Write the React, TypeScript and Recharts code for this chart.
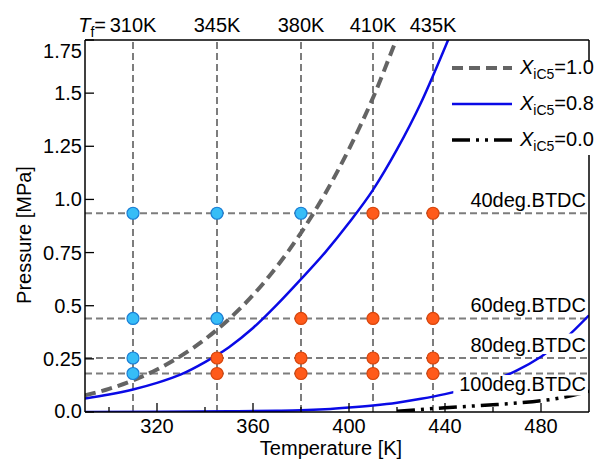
import React from 'react';
import { ComposedChart, Line, Scatter, XAxis, YAxis, ReferenceLine, Legend } from 'recharts';

// ---- data ----
const fuelTemps = [310, 345, 380, 410, 435];
const btdcPressures = [0.935, 0.44, 0.254, 0.181];
const btdcLabels = ['40deg.BTDC', '60deg.BTDC', '80deg.BTDC', '100deg.BTDC'];

// X_iC5 = 1.0 vapour pressure curve
const tempX10 = [290, 300, 310, 320, 330, 340, 350, 360, 370, 380, 390, 400, 410, 420, 425];
const presX10 = [0.078, 0.109, 0.149, 0.2, 0.264, 0.342, 0.437, 0.55, 0.685, 0.843, 1.026, 1.237, 1.478, 1.76, 1.9];

// X_iC5 = 0.8 bubble curve
const tempX08 = [290, 300, 310, 320, 330, 340, 350, 360, 370, 380, 390, 400, 410, 420, 430, 440, 445];
const presX08 = [0.063, 0.082, 0.106, 0.137, 0.177, 0.235, 0.305, 0.395, 0.505, 0.625, 0.75, 0.89, 1.045, 1.235, 1.455, 1.715, 1.85];

// X_iC5 = 0.8 dew curve
const tempX08d = [290, 320, 350, 370, 380, 390, 400, 410, 420, 430, 440, 450, 460, 470, 480, 490, 500];
const presX08d = [0.0005, 0.0012, 0.003, 0.0055, 0.008, 0.013, 0.021, 0.031, 0.044, 0.062, 0.084, 0.112, 0.148, 0.196, 0.26, 0.345, 0.455];

// X_iC5 = 0.0 curve
const tempX00 = [420, 430, 440, 450, 460, 470, 480, 490, 500];
const presX00 = [0.003, 0.012, 0.02, 0.027, 0.034, 0.042, 0.053, 0.07, 0.098];

// measured conditions
const coolT = [310, 310, 310, 310, 345, 345, 380];
const coolP = [0.935, 0.44, 0.254, 0.181, 0.935, 0.44, 0.935];
const warmT = [345, 345, 380, 380, 380, 410, 410, 410, 410, 435, 435, 435, 435];
const warmP = [0.254, 0.181, 0.44, 0.254, 0.181, 0.935, 0.44, 0.254, 0.181, 0.935, 0.44, 0.254, 0.181];

// axes
const xTicks = [300, 320, 340, 360, 380, 400, 420, 440, 460, 480];
const xMajor = [320, 360, 400, 440, 480];
const yTicks = [0, 0.25, 0.5, 0.75, 1, 1.25, 1.5, 1.75];
const yTickLabels = ['0.0', '0.25', '0.5', '0.75', '1.0', '1.25', '1.5', '1.75'];
const legendValues = ['1.0', '0.8', '0.0'];

const zip = (ts: number[], ps: number[]) => ts.map((T, i) => ({ T, P: ps[i] }));
const curveX10 = zip(tempX10, presX10);
const curveX08 = zip(tempX08, presX08);
const curveX08d = zip(tempX08d, presX08d);
const curveX00 = zip(tempX00, presX00);
const coolPts = zip(coolT, coolP);
const warmPts = zip(warmT, warmP);

const FONT = '"Liberation Sans", Arial, Helvetica, sans-serif';
const GRID = '#7d7d7d';
const GRAY = '#646464';
const BLUE = '#0a0ae6';
const DASH_DOT = '18 6 3 6 3 6';

const BottomTick = (p: any) => {
  const major = xMajor.includes(p.payload.value);
  return (
    <g>
      <line x1={p.x} x2={p.x} y1={p.y} y2={p.y - (major ? 9 : 5)} stroke="#000" strokeWidth={1.3} />
      {major && (
        <text x={p.x} y={p.y + 21} textAnchor="middle" fontSize={20} fontFamily={FONT} fill="#000">
          {p.payload.value}
        </text>
      )}
    </g>
  );
};

const TopTick = (p: any) => {
  const major = xMajor.includes(p.payload.value);
  return <line x1={p.x} x2={p.x} y1={p.y} y2={p.y + (major ? 9 : 5)} stroke="#000" strokeWidth={1.3} />;
};

const LeftTick = (p: any) => {
  const v = p.payload.value;
  const idx = yTicks.indexOf(v);
  const shift = v === 1.75 ? 11 : v === 0 ? -1.5 : 0;
  return (
    <g>
      <line x1={p.x} x2={p.x + 9} y1={p.y} y2={p.y} stroke="#000" strokeWidth={1.3} />
      <text x={p.x - 3} y={p.y + 7 + shift} textAnchor="end" fontSize={20} fontFamily={FONT} fill="#000">
        {yTickLabels[idx]}
      </text>
    </g>
  );
};

const RightTick = (p: any) => (
  <line x1={p.x} x2={p.x - 8} y1={p.y} y2={p.y} stroke="#000" strokeWidth={1.3} />
);

// fuel temperature caption above each vertical guide line
const FuelTempTag = (p: any) => {
  const vb = p.viewBox;
  const v: number = p.value;
  const base = vb.y - 8;
  return (
    <g fontFamily={FONT} fontSize={20} fill="#000">
      <text x={vb.x} y={base} textAnchor="middle">{`${v}K`}</text>
      {v === fuelTemps[0] && (
        <text x={vb.x - 27} y={base} textAnchor="end">
          <tspan fontStyle="italic">T</tspan>
          <tspan fontSize={14} dy={5}>f</tspan>
          <tspan dy={-5}>=</tspan>
        </text>
      )}
    </g>
  );
};

const XTitle = (p: any) => {
  const vb = p.viewBox;
  return (
    <text x={vb.x + vb.width / 2 - 6} y={vb.y + 43} textAnchor="middle" fontSize={20} fontFamily={FONT} fill="#000">
      Temperature [K]
    </text>
  );
};

const YTitle = (p: any) => {
  const vb = p.viewBox;
  const x = vb.x + vb.width - 54;
  const y = vb.y + vb.height / 2 + 9;
  return (
    <text x={x} y={y} transform={`rotate(-90, ${x}, ${y})`} textAnchor="middle" fontSize={20} fontFamily={FONT} fill="#000">
      Pressure [MPa]
    </text>
  );
};

const BtdcTag = (p: any) => {
  const vb = p.viewBox;
  const text: string = p.text;
  const below: boolean = p.below;
  const right = vb.x + vb.width - 3;
  const w = text.length * 11.7 + 4;
  const top = below ? vb.y + 1.5 : vb.y - 24.5;
  const base = below ? vb.y + 17 : vb.y - 6.5;
  return (
    <g>
      <rect x={right - w} y={top} width={w + 2} height={20.5} fill="#fff" />
      <text x={right} y={base} textAnchor="end" fontSize={20} fontFamily={FONT} fill="#000">
        {text}
      </text>
    </g>
  );
};

const Marker = (fill: string, stroke: string) => (p: any) => (
  <circle cx={p.cx} cy={p.cy} r={6} fill={fill} stroke={stroke} strokeWidth={1.2} />
);

const legendStyles = [
  { stroke: GRAY, width: 4, dash: '11 6' },
  { stroke: BLUE, width: 2.5, dash: undefined },
  { stroke: '#000', width: 3.5, dash: DASH_DOT },
];

const LegendBox = () => (
  <div style={{ position: 'relative', width: 165, height: 108, fontFamily: FONT, fontSize: 20, color: '#000' }}>
    <div style={{ position: 'absolute', left: 0, top: 12, width: 165, height: 93, background: '#fff' }} />
    {legendValues.map((val, i) => (
      <div
        key={val}
        style={{ position: 'absolute', left: 0, top: i * 36, height: 36, display: 'flex', alignItems: 'center', whiteSpace: 'nowrap' }}
      >
        <svg width={68} height={36} style={{ display: 'block' }}>
          <line x1={7} x2={67} y1={18} y2={18} stroke={legendStyles[i].stroke} strokeWidth={legendStyles[i].width} strokeDasharray={legendStyles[i].dash} />
        </svg>
        <span style={{ marginLeft: 7, lineHeight: '20px' }}>
          <span style={{ fontStyle: 'italic' }}>X</span>
          <span style={{ fontSize: 14, position: 'relative', top: 5 }}>iC5</span>={val}
        </span>
      </div>
    ))}
  </div>
);

export default function App() {
  return (
    <div style={{ position: 'absolute', left: 0, top: 0, width: 610, height: 460, background: '#fff' }}>
      <ComposedChart width={610} height={460} margin={{ top: 39, right: 20, bottom: 47, left: 84 }}>
        <XAxis
          xAxisId="x"
          dataKey="T"
          type="number"
          domain={[290, 500]}
          allowDataOverflow
          ticks={xTicks}
          interval={0}
          height={1}
          tickSize={0}
          tickMargin={0}
          tickLine={false}
          tick={BottomTick}
          axisLine={{ stroke: '#000', strokeWidth: 1.5 }}
          label={<XTitle />}
        />
        <XAxis
          xAxisId="top"
          orientation="top"
          type="number"
          domain={[290, 500]}
          ticks={xTicks}
          interval={0}
          height={1}
          tickSize={0}
          tickMargin={0}
          tickLine={false}
          tick={TopTick}
          axisLine={{ stroke: '#000', strokeWidth: 1.5 }}
        />
        <YAxis
          yAxisId="y"
          dataKey="P"
          type="number"
          domain={[0, 1.75]}
          allowDataOverflow
          ticks={yTicks}
          interval={0}
          width={1}
          tickSize={0}
          tickMargin={0}
          tickLine={false}
          tick={LeftTick}
          axisLine={{ stroke: '#000', strokeWidth: 1.5 }}
          label={<YTitle />}
        />
        <YAxis
          yAxisId="yr"
          orientation="right"
          type="number"
          domain={[0, 1.75]}
          ticks={yTicks}
          interval={0}
          width={1}
          tickSize={0}
          tickMargin={0}
          tickLine={false}
          tick={RightTick}
          axisLine={{ stroke: '#000', strokeWidth: 1.5 }}
        />

        {fuelTemps.map((t) => (
          <ReferenceLine
            key={`v${t}`}
            xAxisId="x"
            yAxisId="y"
            x={t}
            stroke={GRID}
            strokeWidth={2}
            strokeDasharray="7 4"
            label={<FuelTempTag value={t} />}
          />
        ))}
        {btdcPressures.map((p) => (
          <ReferenceLine key={`h${p}`} xAxisId="x" yAxisId="y" y={p} stroke={GRID} strokeWidth={2} strokeDasharray="7 4" />
        ))}

        <Line xAxisId="x" yAxisId="y" data={curveX08d} dataKey="P" type="monotone" stroke={BLUE} strokeWidth={2.5} dot={false} isAnimationActive={false} />
        <Line xAxisId="x" yAxisId="y" data={curveX00} dataKey="P" type="monotone" stroke="#000" strokeWidth={3.5} strokeDasharray={DASH_DOT} dot={false} isAnimationActive={false} />
        <Line xAxisId="x" yAxisId="y" data={curveX08} dataKey="P" type="monotone" stroke={BLUE} strokeWidth={2.5} dot={false} isAnimationActive={false} />
        <Line xAxisId="x" yAxisId="y" data={curveX10} dataKey="P" type="monotone" stroke={GRAY} strokeWidth={4} strokeDasharray="11 6" dot={false} isAnimationActive={false} />

        {btdcPressures.map((p, i) => (
          <ReferenceLine
            key={`l${p}`}
            xAxisId="x"
            yAxisId="y"
            y={p}
            stroke="none"
            label={<BtdcTag text={btdcLabels[i]} below={i === 3} />}
          />
        ))}

        <Scatter xAxisId="x" yAxisId="y" data={coolPts} dataKey="P" shape={Marker('#36bdf7', '#1b7fd6')} isAnimationActive={false} />
        <Scatter xAxisId="x" yAxisId="y" data={warmPts} dataKey="P" shape={Marker('#ff5a1a', '#d8460c')} isAnimationActive={false} />

        <Legend
          layout="vertical"
          align="center"
          verticalAlign="middle"
          wrapperStyle={{ left: 445, top: 50, width: 165, height: 108 }}
          content={() => <LegendBox />}
        />
      </ComposedChart>
    </div>
  );
}
